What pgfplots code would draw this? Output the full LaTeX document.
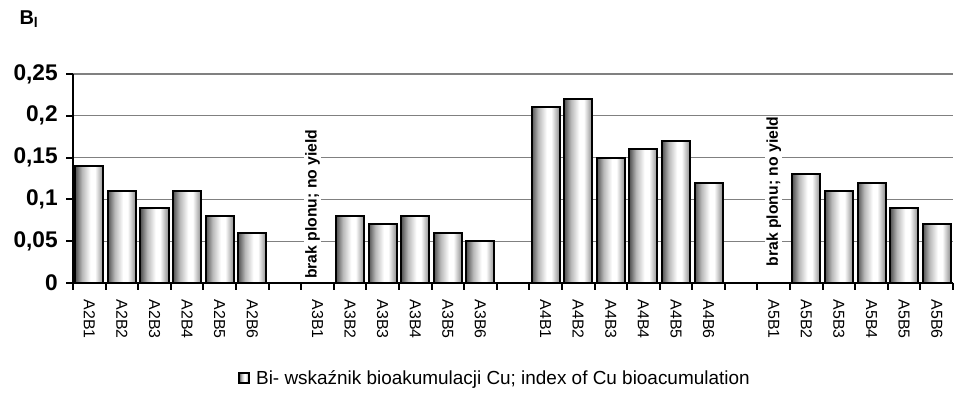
\documentclass[border=0pt]{standalone}
\usepackage{fontspec}
\setmainfont{Liberation Sans}
\usepackage{pgfplots}
\pgfplotsset{compat=1.18}
\pgfdeclarehorizontalshading{cylbar}{100bp}{color(0bp)=(black!68); color(25bp)=(black!68); color(37bp)=(black!28); color(52bp)=(white); color(60bp)=(white); color(75bp)=(black!45); color(100bp)=(black!45)}
\pgfplotsset{mybar/.style={ybar, bar width=0.86, bar shift=0pt, draw=black, line width=1.5pt, shade, shading=cylbar}}
\begin{document}
\begin{tikzpicture}
\begin{axis}[
  scale only axis,
  width=660pt, height=156.75pt,
  xmin=0.5, xmax=27.5,
  ymin=0, ymax=0.25,
  axis x line*=bottom, axis y line*=left,
  axis line style={black, line width=1.5pt},
  y axis line style={-}, x axis line style={-},
  ytick={0,0.05,0.1,0.15,0.2,0.25},
  yticklabel style={font=\bfseries\fontsize{17}{19}\selectfont, xshift=-3pt, /pgf/number format/.cd, use comma, fixed, precision=2, assume math mode=true},
  ymajorgrids, major grid style={black!50, line width=0.8pt},
  tick align=outside,
  major tick length=5pt,
  minor tick length=5pt,
  tick style={black, line width=1.5pt},
  xtick={1,...,27},
  xticklabels={A2B1,A2B2,A2B3,A2B4,A2B5,A2B6,{},A3B1,A3B2,A3B3,A3B4,A3B5,A3B6,{},A4B1,A4B2,A4B3,A4B4,A4B5,A4B6,{},A5B1,A5B2,A5B3,A5B4,A5B5,A5B6},
  major x tick style={draw=none},
  minor xtick={0.5,1.5,...,27.5},
  minor x tick style={draw=black, line width=1.5pt},
  xticklabel style={rotate=-90, anchor=west, font=\fontsize{11.9}{13}\selectfont, xshift=4pt},
  clip=false,
  legend style={at={(rel axis cs:0.183,-0.455)}, anchor=west, draw=none, fill=none, font=\fontsize{14.2}{16}\selectfont, legend cell align=left},
  legend image code/.code={\draw[#1, line width=1.2pt] (0pt,-3.6pt) rectangle (7.2pt,3.6pt); \path (10pt,0) ;},
  ylabel={\textbf{B\textsubscript{l}}},
  ylabel style={rotate=-90, at={(rel axis cs:-0.050,1.262)}, anchor=center, font=\fontsize{15}{17}\selectfont},
]
\addplot[mybar] coordinates {(1,0.14)};
\addlegendentry{Bi- wskaźnik bioakumulacji Cu; index of Cu bioacumulation}
\addplot[mybar, forget plot] coordinates {(2,0.11)};
\addplot[mybar, forget plot] coordinates {(3,0.09)};
\addplot[mybar, forget plot] coordinates {(4,0.11)};
\addplot[mybar, forget plot] coordinates {(5,0.08)};
\addplot[mybar, forget plot] coordinates {(6,0.06)};
\addplot[mybar, forget plot] coordinates {(9,0.08)};
\addplot[mybar, forget plot] coordinates {(10,0.07)};
\addplot[mybar, forget plot] coordinates {(11,0.08)};
\addplot[mybar, forget plot] coordinates {(12,0.06)};
\addplot[mybar, forget plot] coordinates {(13,0.05)};
\addplot[mybar, forget plot] coordinates {(15,0.21)};
\addplot[mybar, forget plot] coordinates {(16,0.22)};
\addplot[mybar, forget plot] coordinates {(17,0.15)};
\addplot[mybar, forget plot] coordinates {(18,0.16)};
\addplot[mybar, forget plot] coordinates {(19,0.17)};
\addplot[mybar, forget plot] coordinates {(20,0.12)};
\addplot[mybar, forget plot] coordinates {(23,0.13)};
\addplot[mybar, forget plot] coordinates {(24,0.11)};
\addplot[mybar, forget plot] coordinates {(25,0.12)};
\addplot[mybar, forget plot] coordinates {(26,0.09)};
\addplot[mybar, forget plot] coordinates {(27,0.07)};
\pgfplotsinvokeforeach{0.5,1.5,...,27.5}{
  \draw[black, line width=1.5pt] (axis cs:#1,0) -- ([yshift=-5pt]axis cs:#1,0);
}
\node[rotate=90, anchor=west, fill=white, inner sep=1pt, font=\bfseries\fontsize{11.8}{13}\selectfont] at (axis cs:7.85,0.003) {brak plonu; no yield};
\node[rotate=90, anchor=west, fill=white, inner sep=1pt, font=\bfseries\fontsize{11.8}{13}\selectfont] at (axis cs:22,0.018) {brak plonu; no yield};
\path (rel axis cs:-0.083,-0.641) rectangle (rel axis cs:1.0011,1.354);
\end{axis}
\end{tikzpicture}
\end{document}
